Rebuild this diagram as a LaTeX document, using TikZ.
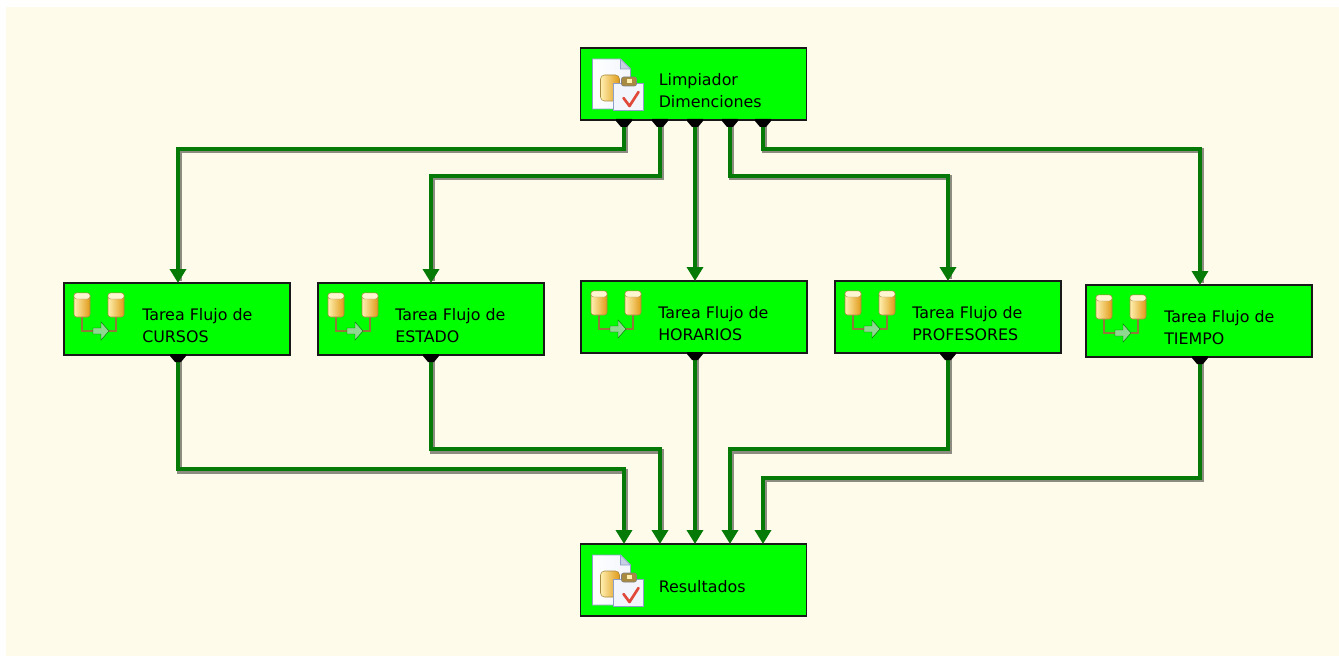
\documentclass[tikz,border=0pt]{standalone}
\usepackage{fontspec}
\setmainfont{DejaVu Sans}
\usetikzlibrary{arrows.meta,calc}
\definecolor{canvas}{HTML}{FFFBEB}
\definecolor{boxgreen}{HTML}{00FF00}
\definecolor{flowgreen}{HTML}{067A06}
\definecolor{flowshadow}{HTML}{8C8C80}
\definecolor{cylA}{HTML}{FFEFB0}
\definecolor{cylB}{HTML}{E09A18}
\definecolor{cylEdge}{HTML}{A88A40}
\definecolor{pipe}{HTML}{8F7A3A}
\definecolor{arrowfill}{HTML}{8FD88F}
\definecolor{pageedge}{HTML}{8FA0C8}
\definecolor{pagefill}{HTML}{F2F5FC}
\definecolor{checkred}{HTML}{E0483A}
\tikzset{
  x=0.75pt,y=-0.75pt,
  taskbox/.style={draw=black!90,line width=1.2pt,fill=boxgreen,minimum width=169.5pt,minimum height=54pt,inner sep=0pt,outer sep=0pt},
  tasklabel/.style={anchor=west,align=left,inner sep=0pt,font=\fontsize{11.9pt}{16.5pt}\selectfont,text=black},
  flow/.style={draw=flowgreen,line width=3.7pt,line join=miter,-{Triangle[length=10.5pt,width=12pt]}},
  flowline/.style={draw=flowshadow,line width=3.7pt,line join=miter},
  port/.style={fill=black,draw=none},
  datapic/.pic={
    \draw[pipe,line width=1.3pt] (18,33) |- (52,48) -- (52,33);
    \foreach \cx in {10,44}{
      \shade[left color=cylA,right color=cylB,draw=cylEdge,line width=.4pt,rounded corners=2pt] (\cx,10) rectangle ++(16,24);
      \fill[cylA!60!white,draw=cylEdge,line width=.3pt,rounded corners=2pt] (\cx,10) rectangle ++(16,6);
    }
    \fill[arrowfill,draw=green!40!black,line width=.3pt] (29,45) -- (37,45) -- (37,39) -- (45,48) -- (37,57) -- (37,51) -- (29,51) -- cycle;
  },
  scriptpic/.pic={
    \shade[left color=white,right color=pagefill,draw=pageedge,line width=.7pt] (12,11) -- (40,11) -- (50,21) -- (50,61) -- (12,61) -- cycle;
    \fill[pageedge!50!white,draw=pageedge,line width=.4pt] (40,11) -- (40,21) -- (50,21) -- cycle;
    \shade[left color=cylA,right color=cylB,draw=cylEdge,line width=.4pt,rounded corners=3pt] (20,27) rectangle (39,53);
    \fill[pagefill,draw=pageedge,line width=.7pt] (33,35) rectangle (63,62);
    \fill[cylEdge,draw=black!50,line width=.4pt,rounded corners=1.5pt] (41,29) rectangle (56,38);
    \fill[cylA] (46,31) rectangle (51,35);
    \draw[checkred,line width=2pt,line join=round,line cap=round] (43,50) -- (49,58) -- (58,44);
  }
}
\newcommand{\outport}[2]{\fill[port] ($(#1)+(#2-8,-1)$) -- ($(#1)+(#2+8,-1)$) -- ($(#1)+(#2+8,1)$) -- ($(#1)+(#2+3,7)$) -- ($(#1)+(#2-3,7)$) -- ($(#1)+(#2-8,1)$) -- cycle;}
\begin{document}
\begin{tikzpicture}
\useasboundingbox (0,0) rectangle (1339,656);
\fill[white] (0,0) rectangle (1339,656);
\fill[canvas] (6,7) rectangle (1339,656);

% shadows first
\foreach \a/\b/\c/\d in {624/149/178/279, 660/176/431/279, 730/176/948/277, 763/149/1200/281}{
  \draw[flowline,shift={(1.6,1.6)}] (\a,122) -- (\a,\b) -- (\c,\b) -- (\c,\d);
}
\draw[flowline,shift={(1.6,1.6)}] (695,122) -- (695,270);
\draw[flowline,shift={(1.6,1.6)}] (178,356) -- (178,470) -- (624,470) -- (624,530);
\draw[flowline,shift={(1.6,1.6)}] (431,356) -- (431,450) -- (660,450) -- (660,530);
\draw[flowline,shift={(1.6,1.6)}] (695,354) -- (695,530);
\draw[flowline,shift={(1.6,1.6)}] (948,354) -- (948,450) -- (730,450) -- (730,530);
\draw[flowline,shift={(1.6,1.6)}] (1200,358) -- (1200,478) -- (763,478) -- (763,530);

% boxes
\node[taskbox] (top) at (693.5,84) {};
\node[taskbox] (curs) at (177,319) {};
\node[taskbox] (est) at (431,319) {};
\node[taskbox] (hor) at (694,317) {};
\node[taskbox] (prof) at (948,317) {};
\node[taskbox] (tiem) at (1199,321) {};
\node[taskbox] (res) at (693.5,580) {};

% connectors
\draw[flow] ($(top.south)+(-69.5,0)$) -- ++(0,29) -| ($(curs.north)+(1,0)$);
\draw[flow] ($(top.south)+(-33.5,0)$) -- ++(0,56) -| (est.north);
\draw[flow] ($(top.south)+(1.5,0)$) -- ($(hor.north)+(1,0)$);
\draw[flow] ($(top.south)+(36.5,0)$) -- ++(0,56) -| (prof.north);
\draw[flow] ($(top.south)+(69.5,0)$) -- ++(0,29) -| ($(tiem.north)+(1,0)$);
\draw[flow] ($(curs.south)+(1,0)$) -- ++(0,114) -| ($(res.north)+(-69.5,0)$);
\draw[flow] (est.south) -- ++(0,94) -| ($(res.north)+(-33.5,0)$);
\draw[flow] ($(hor.south)+(1,0)$) -- ($(res.north)+(1.5,0)$);
\draw[flow] (prof.south) -- ++(0,96) -| ($(res.north)+(36.5,0)$);
\draw[flow] ($(tiem.south)+(1,0)$) -- ++(0,121) -| ($(res.north)+(69.5,0)$);

% ports
\foreach \o in {-69.5,-33.5,1.5,36.5,69.5}{\outport{top.south}{\o}}
\outport{curs.south}{1}
\outport{est.south}{0}
\outport{hor.south}{1}
\outport{prof.south}{0}
\outport{tiem.south}{1}

% icons
\pic at (top.north west) {scriptpic};
\pic at (res.north west) {scriptpic};
\pic at (curs.north west) {datapic};
\pic at (est.north west) {datapic};
\pic at (hor.north west) {datapic};
\pic at (prof.north west) {datapic};
\pic at (tiem.north west) {datapic};

% labels
\node[tasklabel] (ltop) at ($(top.west)+(78,7)$) {Limpiador\\Dimenciones};
\node[tasklabel] (lcurs) at ($(curs.west)+(78,7)$) {Tarea Flujo de\\CURSOS};
\node[tasklabel] (lest) at ($(est.west)+(77,7)$) {Tarea Flujo de\\ESTADO};
\node[tasklabel] (lhor) at ($(hor.west)+(77,7)$) {Tarea Flujo de\\HORARIOS};
\node[tasklabel] (lprof) at ($(prof.west)+(77,7)$) {Tarea Flujo de\\PROFESORES};
\node[tasklabel] (ltiem) at ($(tiem.west)+(78,7)$) {Tarea Flujo de\\TIEMPO};
\node[tasklabel] (lres) at ($(res.west)+(78,7)$) {Resultados};
\end{tikzpicture}
\end{document}
